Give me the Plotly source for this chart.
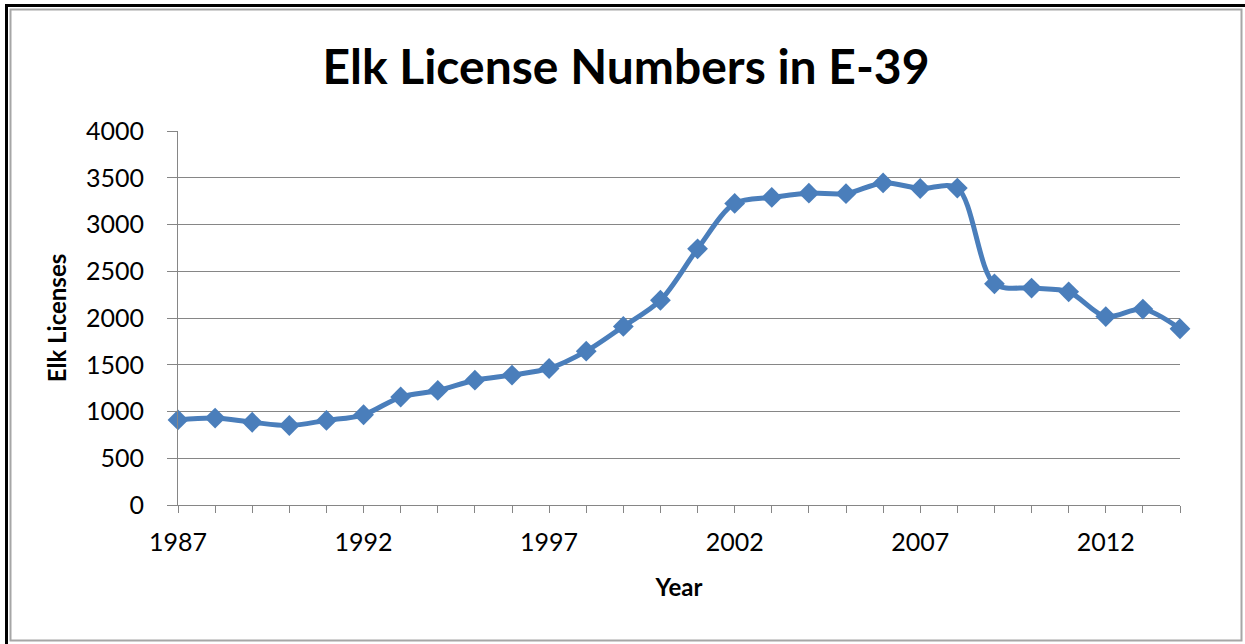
import plotly.graph_objects as go

years = list(range(1987, 2015))
licenses = [910, 930, 885, 850, 905, 965, 1155, 1225, 1335, 1390, 1460, 1645, 1910, 2190,
            2740, 3225, 3290, 3335, 3330, 3445, 3385, 3390, 2365, 2320, 2280, 2015, 2095, 1885]
labelled_years = [1987, 1992, 1997, 2002, 2007, 2012]
y_ticks = [0, 500, 1000, 1500, 2000, 2500, 3000, 3500, 4000]

title_text = "Elk License Numbers in E-39"
x_title = "Year"
y_title = "Elk Licenses"

W, H = 1245, 644
L, R, T, B = 178, 65, 131, 139
BLUE = "#4a7ebb"
GRID = "#868686"

fig = go.Figure()
fig.add_trace(go.Scatter(
    x=years, y=licenses, mode="lines+markers",
    line=dict(color=BLUE, width=5, shape="spline", smoothing=0.9),
    marker=dict(symbol="diamond", size=16, color=BLUE),
    cliponaxis=False, showlegend=False,
))

# helpers to place decorative frame in paper coords
pw, ph = W - L - R, H - T - B
def px(x):
    return (x - L) / pw
def py(y):
    return (H - B - y) / ph

shapes = [
    dict(type="rect", xref="paper", yref="paper", x0=px(10.5), x1=px(1241.5), y0=py(9.5), y1=py(640.5),
         line=dict(color="#a6a6a6", width=2), layer="below"),
    dict(type="line", xref="paper", yref="paper", x0=px(5), x1=px(1245), y0=py(5.5), y1=py(5.5),
         line=dict(color="#000000", width=3)),
    dict(type="line", xref="paper", yref="paper", x0=px(6.5), x1=px(6.5), y0=py(4), y1=py(644),
         line=dict(color="#000000", width=3)),
]

fig.update_layout(
    width=W, height=H,
    margin=dict(l=L, r=R, t=T, b=B),
    paper_bgcolor="white", plot_bgcolor="white",
    font=dict(family="Lato", color="#000000"),
    title=dict(text=title_text, x=626 / W, xref="container", xanchor="center",
               y=1 - 67 / H, yref="container", yanchor="middle",
               font=dict(family="Lato", size=48, weight="bold", color="#000000")),
    shapes=shapes,
    xaxis=dict(
        range=[years[0], years[-1]],
        tickmode="array", tickvals=years,
        ticktext=[str(y) if y in labelled_years else "" for y in years],
        ticks="outside", ticklen=7, tickcolor=GRID, tickwidth=1,
        showline=True, linecolor=GRID, linewidth=1,
        showgrid=False, zeroline=False,
        ticklabelstandoff=8,
        tickfont=dict(family="Lato", size=25, color="#000000"),
        title=dict(text=x_title, standoff=24,
                   font=dict(family="Lato", size=24, weight="bold", color="#000000")),
    ),
    yaxis=dict(
        range=[0, 4000], tickmode="array", tickvals=y_ticks,
        ticks="outside", ticklen=10, tickcolor=GRID, tickwidth=1,
        showline=True, linecolor=GRID, linewidth=1,
        showgrid=True, gridcolor=GRID, gridwidth=1, zeroline=False,
        ticklabelstandoff=18,
        tickfont=dict(family="Lato", size=25, color="#000000"),
        title=dict(text=y_title, standoff=12,
                   font=dict(family="Lato", size=24, weight="bold", color="#000000")),
    ),
)

fig.write_html("out.html")
